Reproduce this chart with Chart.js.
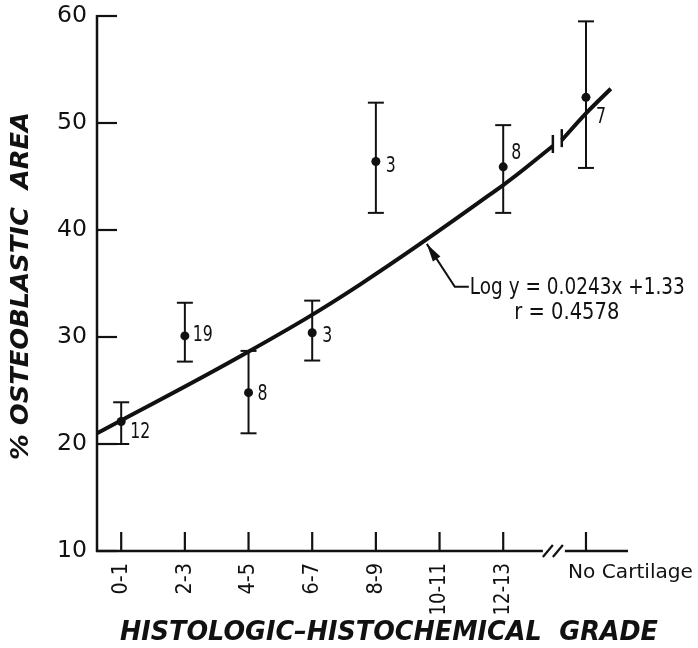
<!DOCTYPE html>
<html>
<head>
<meta charset="utf-8">
<script src="https://cdn.jsdelivr.net/npm/chart.js@4.4.1/dist/chart.umd.min.js"></script>
<style>
  html, body { margin: 0; padding: 0; background: #fff; }
  canvas { display: block; }
</style>
</head>
<body>
<canvas id="chart" width="698" height="648"></canvas>
<script>
// grade categories and their place on the x axis (No Cartilage sits past the break)
const categories = ['0-1', '2-3', '4-5', '6-7', '8-9', '10-11', '12-13', 'No Cartilage'];
const catPos = [0, 1, 2, 3, 4, 5, 6, 7.3];

// % osteoblastic area: mean, error bar limits, number of cases
const means = [22.1, 30.1, 24.8, 30.4, 46.4, null, 45.9, 52.4];
const upper = [23.9, 33.2, 28.7, 33.4, 51.9, null, 49.8, 59.5];
const lower = [20.0, 27.7, 21.0, 27.8, 41.6, null, 41.6, 45.8];
const nCases = ['12', '19', '8', '3', '3', null, '8', '7'];

// fitted curve, drawn in two pieces around the break
const curveX1 = [-0.38, 1.99, 3.75, 6.0, 6.78];
const curveY1 = [21.0, 28.6, 34.9, 44.2, 47.85];
const curveX2 = [6.92, 7.3, 7.69];
const curveY2 = [48.4, 50.9, 53.2];

const yTicks = [10, 20, 30, 40, 50, 60];
const axisBreak = 6.78;

const fitLabel = 'Log y = 0.0243x +1.33';
const corrLabel = 'r = 0.4578';
const arrowTip = { x: 4.8, y: 38.7 };
const arrowElbow = { x: 5.24, y: 34.7 };

// where each n label sits relative to its point (px)
const nOffsets = [[9, 11], [8, -1], [9, 2], [10, 4], [10, 5], null, [8, -14], [10, 20]];

const FONT = "'DejaVu Sans', sans-serif";
const INK = '#111';

function xy(xs, ys) {
    return xs.map((v, i) => ({ x: v, y: ys[i] }));
}

// draw text, optionally squeezed/stretched to a given width
function drawText(ctx, str, x, y, font, align, width) {
    ctx.save();
    ctx.font = font;
    ctx.textBaseline = 'middle';
    ctx.textAlign = 'left';
    const w = ctx.measureText(str).width;
    const sx = width ? width / w : 1;
    const realW = w * sx;
    let left = x;
    if (align === 'center') left = x - realW / 2;
    else if (align === 'right') left = x - realW;
    ctx.translate(left, y);
    ctx.scale(sx, 1);
    ctx.fillText(str, 0, 0);
    ctx.restore();
}

function line(ctx, x1, y1, x2, y2, w) {
    ctx.lineWidth = w;
    ctx.beginPath();
    ctx.moveTo(x1, y1);
    ctx.lineTo(x2, y2);
    ctx.stroke();
}

const decorations = {
    id: 'decorations',
    afterDatasetsDraw(chart) {
        const { ctx, chartArea: a } = chart;
        const xs = chart.scales.x, ys = chart.scales.y;
        ctx.save();
        ctx.strokeStyle = INK;
        ctx.fillStyle = INK;
        ctx.lineCap = 'butt';

        // y axis, inward ticks, labels
        line(ctx, a.left, a.top - 1, a.left, a.bottom + 1, 2.5);
        yTicks.forEach(v => {
            const py = ys.getPixelForValue(v);
            line(ctx, a.left, py, a.left + 20, py, 2.2);
            drawText(ctx, String(v), a.left - 10, py, '23px ' + FONT, 'right', 30);
        });

        // x axis with break
        const bx = xs.getPixelForValue(axisBreak);
        line(ctx, a.left - 1, a.bottom, bx - 10, a.bottom, 2.5);
        line(ctx, bx + 12, a.bottom, a.right, a.bottom, 2.5);
        line(ctx, bx - 10, a.bottom + 6, bx, a.bottom - 6, 2.2);
        line(ctx, bx, a.bottom + 6, bx + 10, a.bottom - 6, 2.2);

        categories.forEach((lab, i) => {
            const px = xs.getPixelForValue(catPos[i]);
            line(ctx, px, a.bottom, px, a.bottom - 19, 2.2);
            if (i < categories.length - 1) {
                ctx.save();
                ctx.translate(px, a.bottom + 12);
                ctx.rotate(-Math.PI / 2);
                drawText(ctx, lab, 0, 0, '22px ' + FONT, 'right', lab.length * 10.5);
                ctx.restore();
            } else {
                drawText(ctx, lab, px - 18, a.bottom + 22, '20px ' + FONT, 'left', 125);
            }
        });

        // error bars and case counts
        categories.forEach((lab, i) => {
            if (means[i] == null) return;
            const px = xs.getPixelForValue(catPos[i]);
            const hi = ys.getPixelForValue(upper[i]);
            const lo = ys.getPixelForValue(lower[i]);
            const pm = ys.getPixelForValue(means[i]);
            line(ctx, px, hi, px, lo, 2);
            line(ctx, px - 8, hi, px + 8, hi, 2);
            line(ctx, px - 8, lo, px + 8, lo, 2);
            const off = nOffsets[i];
            drawText(ctx, nCases[i], px + off[0], pm + off[1], '22px ' + FONT, 'left', nCases[i].length * 10);
        });

        // break marks on the fitted curve
        const endA = chart.getDatasetMeta(0).data.at(-1);
        const endB = chart.getDatasetMeta(1).data[0];
        line(ctx, endA.x, endA.y - 11, endA.x, endA.y + 7, 2.5);
        line(ctx, endB.x, endB.y - 11, endB.x, endB.y + 7, 2.5);

        // arrow + equation
        const tx = xs.getPixelForValue(arrowTip.x), ty = ys.getPixelForValue(arrowTip.y);
        const ex = xs.getPixelForValue(arrowElbow.x), ey = ys.getPixelForValue(arrowElbow.y);
        ctx.lineJoin = 'miter';
        ctx.lineWidth = 2;
        ctx.beginPath();
        ctx.moveTo(ex + 14, ey);
        ctx.lineTo(ex, ey);
        ctx.lineTo(tx, ty);
        ctx.stroke();
        const ang = Math.atan2(ty - ey, tx - ex);
        const len = 18, hw = 4.5;
        const bxh = tx - len * Math.cos(ang), byh = ty - len * Math.sin(ang);
        ctx.beginPath();
        ctx.moveTo(tx, ty);
        ctx.lineTo(bxh + hw * Math.sin(ang), byh - hw * Math.cos(ang));
        ctx.lineTo(bxh - hw * Math.sin(ang), byh + hw * Math.cos(ang));
        ctx.closePath();
        ctx.fill();
        drawText(ctx, fitLabel, ex + 15, ey + 1, '23px ' + FONT, 'left', 215);
        drawText(ctx, corrLabel, ex + 112, ey + 26, '23px ' + FONT, 'center', 105);

        // axis titles
        ctx.save();
        ctx.translate(21, 286);
        ctx.rotate(-Math.PI / 2);
        drawText(ctx, '% OSTEOBLASTIC  AREA', 0, 0, 'italic bold 25px ' + FONT, 'center', 348);
        ctx.restore();
        drawText(ctx, 'HISTOLOGIC\u2013HISTOCHEMICAL  GRADE', 389, 633, 'italic bold 26px ' + FONT, 'center', 538);

        ctx.restore();
    }
};

new Chart(document.getElementById('chart'), {
    type: 'scatter',
    data: {
        datasets: [
            {
                type: 'line',
                data: xy(curveX1, curveY1),
                borderColor: INK,
                borderWidth: 4,
                pointRadius: 0,
                tension: 0.4,
                clip: false,
            },
            {
                type: 'line',
                data: xy(curveX2, curveY2),
                borderColor: INK,
                borderWidth: 4,
                pointRadius: 0,
                tension: 0.4,
                clip: false,
            },
            {
                data: catPos.map((p, i) => ({ x: p, y: means[i] })).filter(d => d.y != null),
                backgroundColor: INK,
                borderColor: INK,
                pointRadius: 4.5,
                pointBorderWidth: 0,
            },
        ]
    },
    options: {
        responsive: false,
        animation: false,
        layout: { padding: { left: 97, right: 70, top: 16, bottom: 97 } },
        scales: {
            x: { type: 'linear', min: -0.38, max: 7.96, display: false },
            y: { min: 10, max: 60, display: false },
        },
        plugins: {
            legend: { display: false },
            tooltip: { enabled: false },
        },
    },
    plugins: [decorations],
});
</script>
</body>
</html>
